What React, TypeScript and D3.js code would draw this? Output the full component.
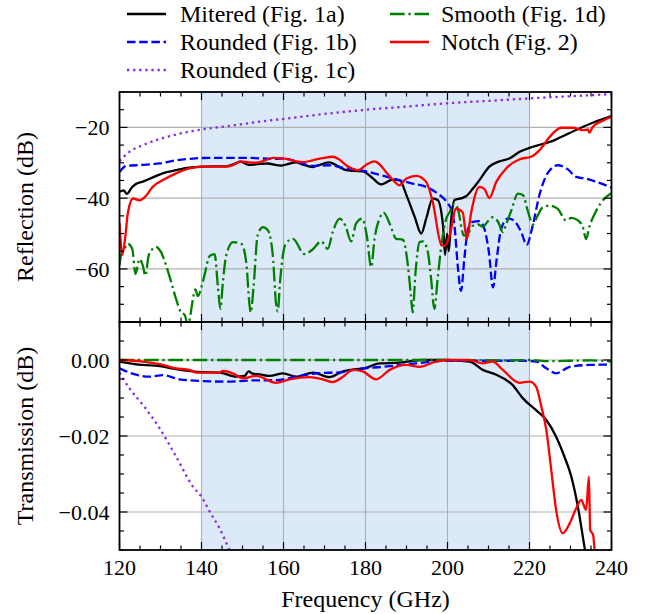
import React from "react";
import * as d3 from "d3";

// ---------- DATA ----------
const X_TICKS = [120, 140, 160, 180, 200, 220, 240];
const REFL_TICKS = [-60, -40, -20];
const TRANS_TICKS = [-0.04, -0.02, 0.0];
const BAND = [140, 220];

type P = [number, number];

// Reflection (dB)
const mitRefl: P[] = [[120,-38.2],[121,-37.8],[121.8,-38.8],[123,-37],[124,-36],[126,-35.2],[128,-34.2],[130.5,-33],[133.8,-32.1],[137,-31.4],[140,-31.1],[143,-31],[146,-31],[148,-30.3],[149.5,-29.7],[151.5,-30.6],[153.5,-30.4],[156,-30.2],[159.4,-30.8],[161,-30.4],[163,-29.9],[165,-30.6],[167,-31.2],[169,-30.5],[171.2,-29.9],[173,-30.8],[175.3,-32.1],[177,-32.3],[179.3,-32.4],[181.8,-34.4],[183.8,-36.1],[185,-35.6],[186.5,-34.8],[188.3,-34.9],[190,-39.2],[192,-45.3],[193.6,-50],[194.8,-45.8],[196.4,-40.1],[197.6,-40.5],[198.9,-47.7],[199.4,-56],[199.9,-50],[200.3,-55],[200.9,-46],[201.7,-40.5],[203.5,-40],[204.6,-39.4],[206.2,-37.3],[207.8,-34.9],[210.2,-31.1],[212.7,-29.6],[215.1,-28.8],[217.6,-26.9],[220,-25.8],[223.2,-24.7],[225.7,-23.8],[229,-22],[232.2,-20.3],[235.4,-18.7],[240,-16.8]];
const rndBRefl: P[] = [[120,-32.6],[121.6,-30.9],[125.7,-30.6],[129.8,-30.2],[133.8,-29.3],[137.9,-28.8],[142,-28.6],[150,-28.6],[158.2,-28.9],[160,-28.8],[163.1,-29.6],[167.1,-30.9],[171.2,-30.7],[175.3,-31.6],[179.3,-32.2],[183.4,-33.4],[187.5,-34.7],[191.5,-35.9],[194.8,-36.8],[197.6,-38.7],[199,-40],[200.1,-41.5],[201,-43.5],[201.7,-47.7],[202.5,-59.1],[203.3,-66.2],[204.1,-57.2],[205,-48.7],[206.2,-46.7],[207.8,-46.5],[209,-48.7],[210.1,-55.3],[211.1,-65.2],[212,-57.2],[213.1,-48.7],[214.7,-45.8],[215.9,-46.1],[218,-49.6],[219.3,-53.2],[220.8,-47.7],[222.4,-39.2],[224.5,-32.8],[226.9,-30.7],[229.3,-31.8],[231.4,-34],[233.8,-34.5],[236.3,-35.4],[240,-37]];
const rndCRefl: P[] = [[120,-29.5],[122.4,-26.9],[125.7,-25],[129.8,-23.3],[133.8,-22],[140,-20.6],[146,-19.7],[154.2,-18.4],[160.7,-17.5],[170,-16.2],[179.3,-15.1],[190,-14.1],[199.7,-13.2],[210,-12.5],[220,-11.8],[230,-11.2],[240,-10.6]];
const smoRefl: P[] = [[120,-59],[120.4,-56],[121.2,-54.3],[122,-52.9],[123.1,-54.3],[123.9,-61.4],[124.9,-57.2],[125.7,-59.1],[126.3,-61.9],[127.1,-56.3],[128.1,-54.3],[128.9,-53.8],[130.1,-55.2],[131.4,-59.1],[132.6,-63.7],[133.8,-68.5],[135,-72.3],[135.9,-73],[136.7,-76],[137.3,-73],[137.9,-68.5],[138.5,-65.8],[139.1,-67.7],[140,-65],[140.7,-61.9],[142,-56.3],[143.2,-55.8],[144,-65],[144.6,-71.3],[145.2,-64],[146,-56.3],[147.7,-52.4],[149.7,-52.9],[150.9,-58],[151.7,-70],[152,-72.3],[152.7,-65],[153.7,-50.5],[155,-48.2],[156.2,-49.1],[157.4,-56.3],[158.2,-70],[158.6,-72],[159.2,-63],[160.5,-53],[162.3,-51.5],[165.1,-55.8],[167.1,-54.5],[169.2,-52.2],[170.8,-54.3],[172,-49.6],[173.7,-45.8],[175.1,-47.8],[176.5,-52.2],[177.7,-47.2],[179.2,-45.8],[180.3,-50.5],[181.4,-59.5],[182.2,-51.5],[183.4,-45.8],[184.4,-44.1],[185.9,-47.2],[187.5,-51.5],[189.1,-51.7],[190.3,-58.6],[191.1,-67.9],[191.5,-72.3],[192.2,-61],[193.2,-52.4],[194,-52.2],[195.2,-55.2],[196,-62.8],[196.8,-71.3],[197.6,-62.8],[198.5,-53.4],[199.7,-45.8],[200.5,-44],[201.7,-41.6],[202.5,-43],[204,-50.6],[205,-49.9],[206.2,-47.8],[207.4,-47.4],[208.6,-48.1],[209.8,-46.6],[211,-45.4],[212.3,-46.6],[213.5,-49.6],[214.3,-47.4],[215.5,-43.7],[217.2,-38.7],[218.4,-39.1],[219.6,-43.7],[220.8,-47.4],[222,-44.9],[223.2,-42.6],[225,-42.1],[226.9,-43],[228.9,-46.3],[230.2,-45.6],[231.8,-46.3],[233,-48.1],[233.8,-51.6],[234.6,-48.1],[236,-44.2],[237.5,-41.2],[240,-38.5]];
const notRefl: P[] = [[120,-47],[120.7,-56],[121.5,-50],[122,-44.5],[123.3,-40.1],[124.9,-40.6],[126.1,-39.8],[128.1,-36.8],[130.6,-34.9],[133.8,-33],[137.1,-31.6],[140.3,-31.1],[146,-31.1],[148,-30.5],[149.7,-29.6],[151.5,-29.9],[153.3,-30],[155.5,-29.3],[157.4,-28.6],[160.7,-28.9],[163.1,-29.6],[165,-29.8],[167.1,-29.3],[169.5,-28.7],[172,-28.3],[173.5,-29],[175.3,-30.7],[178.1,-32.1],[180.3,-30.5],[182.2,-29.6],[183.5,-30.5],[185,-32.6],[186.8,-35],[188.3,-36.4],[189.9,-34.5],[192.4,-33.7],[194.8,-35.4],[196.4,-41.1],[198.5,-53.2],[199.3,-53.5],[200.5,-50.6],[202.1,-43],[203.7,-44],[204.7,-51.5],[205.8,-43.9],[207.8,-36.8],[209,-37.4],[210.2,-40],[211.9,-35.4],[214.3,-31.6],[217.6,-29],[220.4,-28.3],[222.4,-26.5],[224.9,-22.7],[227.7,-20.1],[230.6,-20.1],[233,-20.8],[234.2,-20.6],[234.6,-21.5],[235.4,-19.9],[237.9,-18.1],[240,-17]];

// Transmission (dB)
const mitTrans: P[] = [[120,-0.0004],[125.7,-0.0013],[129.8,-0.0016],[133.8,-0.0024],[140,-0.0032],[144.4,-0.0033],[148.5,-0.0044],[150.5,-0.0042],[151.5,-0.003],[152.5,-0.0036],[154.2,-0.0038],[156.6,-0.0042],[159.9,-0.0035],[163.1,-0.0044],[167.2,-0.0033],[171.2,-0.0045],[174.5,-0.003],[177.7,-0.0024],[179.3,-0.0023],[183.4,-0.0009],[188.3,-0.0007],[194,0],[199.7,0],[205.4,-0.0004],[208.6,-0.0026],[211.9,-0.0039],[215.9,-0.0066],[218.4,-0.0101],[221.6,-0.0132],[224.1,-0.0158],[226.5,-0.0202],[228.5,-0.0254],[230.2,-0.0307],[231.8,-0.0386],[233.4,-0.0491],[234.5,-0.056]];
const rndBTrans: P[] = [[120,-0.0022],[122.4,-0.0033],[127.3,-0.0044],[130.6,-0.004],[134.6,-0.0051],[139.5,-0.0055],[146,-0.0057],[151.7,-0.0054],[158.2,-0.0053],[163.1,-0.0044],[168,-0.0035],[174.5,-0.0032],[178.1,-0.0024],[184.2,-0.0018],[192.4,-0.0009],[199.7,-0.0002],[208.6,-0.0002],[218.4,-0.0002],[221.6,-0.0004],[224.1,-0.0022],[226.5,-0.0035],[229.8,-0.0018],[234.6,-0.0013],[240,-0.0012]];
const rndCTrans: P[] = [[120,-0.0033],[122.4,-0.0074],[125.7,-0.0118],[129.8,-0.018],[133.8,-0.0254],[137.9,-0.0333],[140,-0.036],[142,-0.0399],[144.4,-0.0443],[146.8,-0.05],[148,-0.053]];
const smoTrans: P[] = [[120,0],[160,0],[200,0],[215,-0.0001],[220,0],[225,-0.0003],[230,-0.0002],[235,-0.0001],[240,-0.0004]];
const notTrans: P[] = [[120,0],[125.7,-0.0004],[129.8,-0.0011],[133.8,-0.0022],[137.1,-0.0026],[138.7,-0.0033],[144.4,-0.0033],[145.2,-0.0029],[147.6,-0.0035],[150.1,-0.0048],[153.3,-0.0042],[158.2,-0.006],[161.5,-0.0051],[166.3,-0.0045],[169.6,-0.0051],[172,-0.0058],[174.5,-0.0044],[176.9,-0.0026],[179.3,-0.003],[182.6,-0.0051],[185.9,-0.0026],[189.9,-0.0013],[193.2,-0.0018],[197.2,-0.0004],[200.5,0],[205.4,0],[208.6,-0.0009],[211,-0.0004],[213.5,-0.0026],[217.6,-0.006],[220,-0.0057],[221.6,-0.007],[222.9,-0.0123],[224.1,-0.0184],[225.3,-0.0289],[226.5,-0.0395],[228.1,-0.0456],[229.8,-0.043],[231.4,-0.039],[232.6,-0.0368],[233.8,-0.0395],[234.5,-0.0307],[234.8,-0.0447],[235.5,-0.046],[236,-0.052]];

const SERIES_NAMES = ["Mitered (Fig. 1a)", "Rounded (Fig. 1b)", "Rounded (Fig. 1c)", "Smooth (Fig. 1d)", "Notch (Fig. 2)"];

// ---------- STYLE ----------
const LW = 2.3;
const STYLES = [
  { color: "#000000", dash: "" },
  { color: "#0000ff", dash: `${3.7 * LW} ${1.6 * LW}` },
  { color: "#8a2be2", dash: `${1 * LW} ${1.65 * LW}` },
  { color: "#008000", dash: `${6.4 * LW} ${1.6 * LW} ${1 * LW} ${1.6 * LW}` },
  { color: "#ff0000", dash: "" },
];
const FONT = "Liberation Serif, DejaVu Serif, serif";

const W = 650, H = 614;
const L = 119.5, R = 611.5;
const T1 = 92, B1 = 322, T2 = 322, B2 = 550;

export default function App() {
  const x = d3.scaleLinear().domain([120, 240]).range([L, R]);
  const y1 = d3.scaleLinear().domain([-75, -10]).range([B1, T1]);
  const y2 = d3.scaleLinear().domain([-0.05, 0.01]).range([B2, T2]);
  const fmtR = d3.format("d");
  const fmtT = d3.format(".2f");

  const reflSets = [mitRefl, rndBRefl, rndCRefl, smoRefl, notRefl];
  const transSets = [mitTrans, rndBTrans, rndCTrans, smoTrans, notTrans];

  const line1 = d3.line<P>().x(d => x(d[0])).y(d => y1(d[1])).curve(d3.curveMonotoneX);
  const line2 = d3.line<P>().x(d => x(d[0])).y(d => y2(d[1])).curve(d3.curveMonotoneX);

  const xMinor = d3.range(120, 240.01, 5);
  const y1Minor = d3.range(-75, -9.99, 5);
  const y2Minor = d3.range(-0.05, 0.0101, 0.005);

  const MAJ = 8, MIN = 4.5;
  const txt = { fontFamily: FONT } as React.CSSProperties;

  const panel = (top: number, bot: number, yScale: any, yMajor: number[], yMinor: number[], fmt: (v: number) => string, sets: P[][], lineGen: any, clipId: string, showX: boolean) => (
    <g>
      <defs>
        <clipPath id={clipId}>
          <rect x={L} y={top} width={R - L} height={bot - top} />
        </clipPath>
      </defs>
      <rect x={x(BAND[0])} y={top} width={x(BAND[1]) - x(BAND[0])} height={bot - top} fill="#dbe9f9" />
      {X_TICKS.map(t => (
        <line key={"gx" + t} x1={x(t)} x2={x(t)} y1={top} y2={bot} stroke="#b0b0b0" strokeWidth={1.1} />
      ))}
      {yMajor.map(t => (
        <line key={"gy" + t} x1={L} x2={R} y1={yScale(t)} y2={yScale(t)} stroke="#b0b0b0" strokeWidth={1.1} />
      ))}
      <g clipPath={`url(#${clipId})`}>
        {sets.map((s, i) => (
          <path key={i} d={lineGen(s)} fill="none" stroke={STYLES[i].color} strokeWidth={LW}
            strokeDasharray={STYLES[i].dash || undefined} strokeLinejoin="round" />
        ))}
      </g>
      {xMinor.map(t => {
        const len = X_TICKS.includes(Math.round(t)) ? MAJ : MIN;
        return (
          <g key={"tx" + t}>
            <line x1={x(t)} x2={x(t)} y1={top} y2={top + len} stroke="#000" strokeWidth={1.2} />
            <line x1={x(t)} x2={x(t)} y1={bot} y2={bot - len} stroke="#000" strokeWidth={1.2} />
          </g>
        );
      })}
      {yMinor.map(t => {
        const isMaj = yMajor.some(m => Math.abs(m - t) < 1e-9);
        const len = isMaj ? MAJ : MIN;
        const yy = yScale(t);
        return (
          <g key={"ty" + t}>
            <line x1={L} x2={L + len} y1={yy} y2={yy} stroke="#000" strokeWidth={1.2} />
            <line x1={R} x2={R - len} y1={yy} y2={yy} stroke="#000" strokeWidth={1.2} />
          </g>
        );
      })}
      {yMajor.map(t => (
        <text key={"ly" + t} x={L - 10} y={yScale(t)} dy="0.35em" textAnchor="end" fontSize={22} style={txt}>
          {fmt(t)}
        </text>
      ))}
      {showX && X_TICKS.map(t => (
        <text key={"lx" + t} x={x(t)} y={bot + 25} textAnchor="middle" fontSize={22} style={txt}>
          {t}
        </text>
      ))}
      <rect x={L} y={top} width={R - L} height={bot - top} fill="none" stroke="#000" strokeWidth={1.8} />
    </g>
  );

  const legendItems = [
    { i: 0, lx: 127, tx: 180, y: 14 },
    { i: 1, lx: 127, tx: 180, y: 42 },
    { i: 2, lx: 127, tx: 180, y: 70 },
    { i: 3, lx: 390, tx: 441, y: 14 },
    { i: 4, lx: 390, tx: 441, y: 42 },
  ];

  return (
    <svg width={W} height={H} style={{ position: "absolute", left: 0, top: 0, background: "#fff" }}>
      <rect x={0} y={0} width={W} height={H} fill="#fff" />
      {panel(T1, B1, y1, REFL_TICKS, y1Minor, fmtR, reflSets, line1, "clipTop", false)}
      {panel(T2, B2, y2, TRANS_TICKS, y2Minor, fmtT, transSets, line2, "clipBot", true)}
      <text x={(L + R) / 2} y={607} textAnchor="middle" fontSize={24} style={txt}>Frequency (GHz)</text>
      <text transform={`translate(33,${(T1 + B1) / 2}) rotate(-90)`} textAnchor="middle" fontSize={24} style={txt}>Reflection (dB)</text>
      <text transform={`translate(33,${(T2 + B2) / 2}) rotate(-90)`} textAnchor="middle" fontSize={24} style={txt}>Transmission (dB)</text>
      {legendItems.map(it => (
        <g key={it.i}>
          <line x1={it.lx} x2={it.lx + 39} y1={it.y} y2={it.y} stroke={STYLES[it.i].color} strokeWidth={LW}
            strokeDasharray={STYLES[it.i].dash || undefined} />
          <text x={it.tx} y={it.y} dy="0.35em" fontSize={24} style={txt}>{SERIES_NAMES[it.i]}</text>
        </g>
      ))}
    </svg>
  );
}
